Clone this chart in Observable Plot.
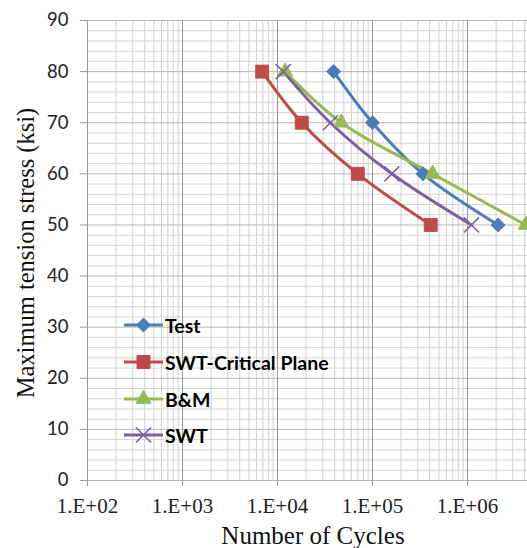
<!DOCTYPE html>
<html>
<head>
<meta charset="utf-8">
<script src="https://cdn.jsdelivr.net/npm/d3@7"></script>
<script src="https://cdn.jsdelivr.net/npm/@observablehq/plot@0.6"></script>
<style>
  html, body { margin: 0; padding: 0; background: #fff; overflow: hidden; }
  #wrap { position: relative; width: 527px; height: 548px; }
  #legend { position: absolute; left: 0; top: 0; }
  .row { position: absolute; display: flex; align-items: center; white-space: nowrap; font-family: Lato, "Open Sans", sans-serif; font-weight: bold; font-size: 19.5px; color: #000; }
  .title { position: absolute; font-family: "Liberation Serif", "Times New Roman", serif; color: #111; white-space: nowrap; line-height: 1; }
</style>
</head>
<body>
<div id="wrap">
  <div id="legend"></div>
  <div id="xtitle" class="title" style="font-size:25px"></div>
  <div id="ytitle" class="title" style="font-size:24.5px"></div>
</div>
<script>
// ---- data ----
const stress = [80, 70, 60, 50];
const testCycles = [3.9e4, 1.0e5, 3.4e5, 2.1e6];
const swtCriticalCycles = [6.9e3, 1.8e4, 7.0e4, 4.1e5];
const bmCycles = [1.2e4, 4.7e4, 4.3e5, 4.1e6];
const swtCycles = [1.15e4, 3.6e4, 1.6e5, 1.1e6];

const seriesNames = ["Test", "SWT-Critical Plane", "B&M", "SWT"];
const seriesColors = ["#4a7ebb", "#be4b48", "#98b954", "#7d60a0"];
const seriesSymbols = ["diamond2", "square", "triangle", "times"];
const seriesR = [6.3, 7.3, 5.6, 6.9];

const xTickValues = [1e2, 1e3, 1e4, 1e5, 1e6];
const yTickValues = [0, 10, 20, 30, 40, 50, 60, 70, 80, 90];
const xTitle = "Number of Cycles";
const yTitle = "Maximum tension stress (ksi)";

// ---- derived tables ----
const cyclesBySeries = [testCycles, swtCriticalCycles, bmCycles, swtCycles];
const rows = [];
seriesNames.forEach((s, i) => cyclesBySeries[i].forEach((c, j) => rows.push({series: s, cycles: c, stress: stress[j]})));

const majorX = [1e2, 1e3, 1e4, 1e5, 1e6, 1e7];
const minorX = [];
for (let k = 2; k <= 6; k++) for (let m = 2; m <= 9; m++) minorX.push(m * Math.pow(10, k));
const minorY = d3.range(0, 91, 2).filter(v => v % 10 !== 0);

const marks = [
  Plot.ruleX(minorX, {stroke: "#d0d0d0", strokeWidth: 1}),
  Plot.ruleY(minorY, {stroke: "#d4d4d4", strokeWidth: 1}),
  Plot.ruleY(yTickValues, {stroke: "#b8b8b8", strokeWidth: 1}),
  Plot.ruleX(majorX, {stroke: "#999", strokeWidth: 1}),
  Plot.axisX({ticks: xTickValues, tickFormat: d => "1.E+0" + Math.round(Math.log10(d)), tickSize: 6, tickPadding: 12,
    fontSize: 21, fontFamily: "Liberation Serif, serif", stroke: "#999", fill: "#222", label: null}),
  Plot.axisY({ticks: yTickValues, tickSize: 7, tickPadding: 12, fontSize: 18.5, fontFamily: "Lato, sans-serif",
    stroke: "#999", fill: "#222", label: null})
];
seriesNames.forEach((s, i) => {
  const d = rows.filter(r => r.series === s);
  marks.push(Plot.line(d, {x: "cycles", y: "stress", stroke: seriesColors[i], strokeWidth: 3, curve: "catmull-rom"}));
});
seriesNames.forEach((s, i) => {
  const d = rows.filter(r => r.series === s);
  const sym = seriesSymbols[i];
  marks.push(Plot.dot(d, {x: "cycles", y: "stress", symbol: sym, r: seriesR[i],
    fill: sym === "times" ? "none" : seriesColors[i], stroke: seriesColors[i], strokeWidth: sym === "times" ? 1.6 : 1}));
});

const chart = Plot.plot({
  width: 527, height: 548,
  marginLeft: 87, marginRight: -35, marginTop: 20, marginBottom: 68,
  x: {type: "log", domain: [1e2, 1e7]},
  y: {domain: [0, 90]},
  style: {background: "transparent", overflow: "visible"},
  marks
});
document.getElementById("wrap").insertBefore(chart, document.getElementById("legend"));

// ---- titles ----
d3.select("#xtitle").text(xTitle).style("left", "313px").style("top", "523px").style("transform", "translateX(-50%)");
d3.select("#ytitle").text(yTitle).style("left", "26px").style("top", "253px")
  .style("transform", "translate(-50%, -50%) rotate(-90deg)");

// ---- legend ----
const legendTop = [325, 362, 399, 435];
const legend = d3.select("#legend");
const symMap = {diamond2: d3.symbolDiamond2, square: d3.symbolSquare, triangle: d3.symbolTriangle, times: d3.symbolTimes};
seriesNames.forEach((s, i) => {
  const row = legend.append("div").attr("class", "row").style("left", "124px").style("top", (legendTop[i] - 12) + "px").style("height", "24px");
  const svg = row.append("svg").attr("width", 40).attr("height", 24);
  svg.append("line").attr("x1", 0).attr("x2", 39).attr("y1", 12).attr("y2", 12).attr("stroke", seriesColors[i]).attr("stroke-width", 3);
  const size = Math.PI * seriesR[i] * seriesR[i];
  svg.append("path").attr("transform", "translate(19.5,12)").attr("d", d3.symbol(symMap[seriesSymbols[i]], size)())
    .attr("fill", seriesSymbols[i] === "times" ? "none" : seriesColors[i]).attr("stroke", seriesColors[i]).attr("stroke-width", seriesSymbols[i] === "times" ? 1.6 : 1);
  row.append("span").text(s).style("margin-left", "1px");
});
</script>
</body>
</html>
